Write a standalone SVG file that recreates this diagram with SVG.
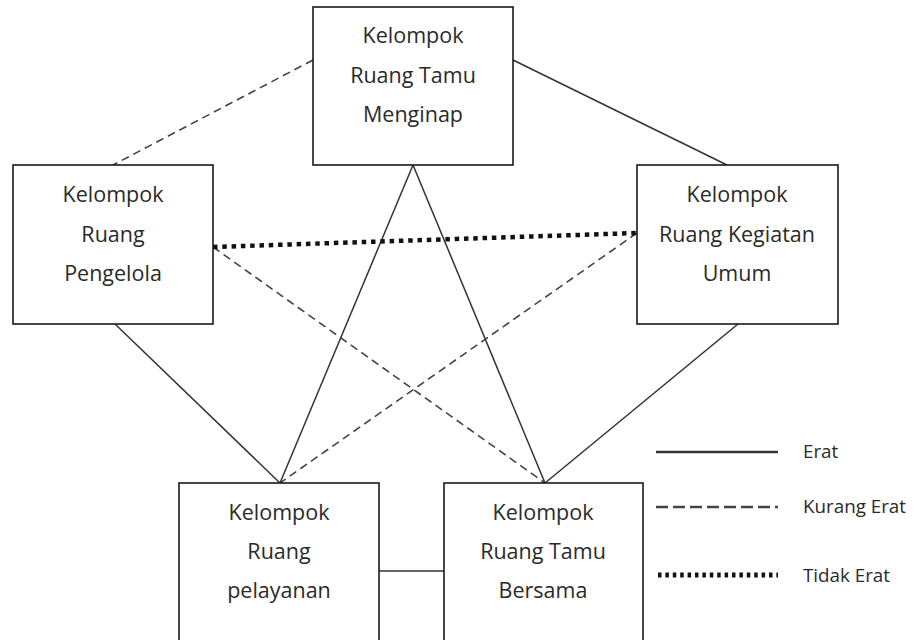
<svg xmlns="http://www.w3.org/2000/svg" width="919" height="640" viewBox="0 0 919 640">
<style>
.box{fill:#fff;stroke:#1a1a1a;stroke-width:1.6}
.t{font-family:"Open Sans","Liberation Sans",sans-serif;font-size:21.5px;fill:#2a2a2a;text-anchor:middle}
.lt{font-family:"Open Sans","Liberation Sans",sans-serif;font-size:18.8px;fill:#2a2a2a}
.solid{stroke:#333;stroke-width:1.5;fill:none}
.dash{stroke:#444;stroke-width:1.6;stroke-dasharray:8 5;fill:none}
.dot{stroke:#111;stroke-width:4.5;stroke-dasharray:4.5 4.8;fill:none}
</style>
<rect width="919" height="640" fill="#fff"/>
<g id="connectors">
<line class="dash" x1="313" y1="60" x2="113" y2="165"/>
<line class="solid" x1="513" y1="60" x2="727" y2="165"/>
<line class="solid" x1="413" y1="165" x2="280" y2="483"/>
<line class="solid" x1="413" y1="165" x2="545" y2="483"/>
<line class="dash" x1="213" y1="247" x2="545" y2="483"/>
<line class="dash" x1="637" y1="233" x2="280" y2="483"/>
<line class="solid" x1="115" y1="324" x2="280" y2="483"/>
<line class="solid" x1="738" y1="324" x2="545" y2="483"/>
<line class="solid" x1="379" y1="571" x2="444" y2="571"/>
<line class="dot" x1="213" y1="247" x2="637" y2="233"/>
</g>
<g id="tamu-menginap">
<rect class="box" x="313" y="7" width="200" height="158"/>
<text class="t" x="413" y="43">Kelompok</text>
<text class="t" x="413" y="83">Ruang Tamu</text>
<text class="t" x="413" y="122">Menginap</text>
</g>
<g id="pengelola">
<rect class="box" x="13" y="165" width="200" height="159"/>
<text class="t" x="113" y="202">Kelompok</text>
<text class="t" x="113" y="242">Ruang</text>
<text class="t" x="113" y="281">Pengelola</text>
</g>
<g id="kegiatan-umum">
<rect class="box" x="637" y="165" width="201" height="159"/>
<text class="t" x="737" y="202">Kelompok</text>
<text class="t" x="737" y="242">Ruang Kegiatan</text>
<text class="t" x="737" y="281">Umum</text>
</g>
<g id="pelayanan">
<rect class="box" x="179" y="483" width="200" height="160"/>
<text class="t" x="279" y="520">Kelompok</text>
<text class="t" x="279" y="559">Ruang</text>
<text class="t" x="279" y="598">pelayanan</text>
</g>
<g id="tamu-bersama">
<rect class="box" x="444" y="483" width="199" height="160"/>
<text class="t" x="543" y="520">Kelompok</text>
<text class="t" x="543" y="559">Ruang Tamu</text>
<text class="t" x="543" y="598">Bersama</text>
</g>
<g id="legend">
<line x1="656" y1="452" x2="778" y2="452" stroke="#333" stroke-width="2.4"/>
<text class="lt" x="803" y="458">Erat</text>
<line x1="656" y1="507" x2="778" y2="507" stroke="#444" stroke-width="2.6" stroke-dasharray="12 5"/>
<text class="lt" x="803" y="513">Kurang Erat</text>
<line x1="658" y1="575" x2="778" y2="575" stroke="#111" stroke-width="5" stroke-dasharray="3.5 3.9"/>
<text class="lt" x="803" y="582">Tidak Erat</text>
</g>
</svg>
